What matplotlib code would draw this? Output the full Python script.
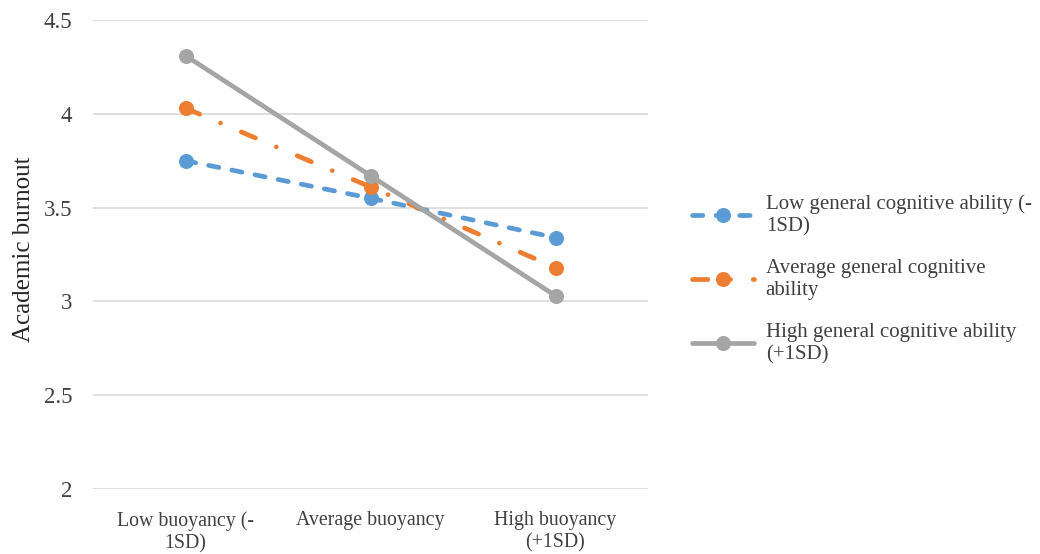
import matplotlib.pyplot as plt

plt.rcParams["font.family"] = ["Liberation Serif", "DejaVu Serif"]

categories = ["Low buoyancy (-\n1SD)", "Average buoyancy", "High buoyancy\n(+1SD)"]
low_gca = [3.75, 3.55, 3.34]
avg_gca = [4.03, 3.61, 3.18]
high_gca = [4.31, 3.67, 3.03]
series_labels = ["Low general cognitive ability (-\n1SD)",
                 "Average general cognitive\nability",
                 "High general cognitive ability\n(+1SD)"]

fig = plt.figure(figsize=(10.4, 5.54), dpi=100)
ax = fig.add_axes([93 / 1040, 1 - 489 / 554, (648 - 93) / 1040, (489 - 20) / 554])

x = [0.5, 1.5, 2.5]
lw = 3.4
ms = 9.8
ax.plot(x, low_gca, color="#5b9bd5", lw=lw, ls=(0, (2.2, 2.8)), marker="o",
        ms=ms, dash_capstyle="round", label=series_labels[0])
ax.plot(x, avg_gca, color="#ed7d31", lw=lw, ls=(0, (3.25, 4.8, 0.01, 4.8)), marker="o",
        ms=ms, dash_capstyle="round", label=series_labels[1])
ax.plot(x, high_gca, color="#a5a5a5", lw=lw, ls="-", marker="o",
        ms=ms, solid_capstyle="round", label=series_labels[2])

ax.set_xlim(0, 3)
ax.set_ylim(2, 4.5)
ax.set_yticks([2, 2.5, 3, 3.5, 4, 4.5])
ax.set_yticklabels(["2", "2.5", "3", "3.5", "4", "4.5"])
ax.set_xticks(x)
ax.set_xticklabels(categories)
ax.tick_params(axis="both", length=0, colors="#404040")
ax.tick_params(axis="x", pad=16, labelsize=14.3)
ax.tick_params(axis="y", pad=15, labelsize=16.5)
ax.grid(axis="y", color="#d9d9d9", lw=1.2)
ax.set_axisbelow(True)
for s in ax.spines.values():
    s.set_visible(False)
ax.set_ylabel("Academic burnout", fontsize=18, color="#262626")
ax.yaxis.set_label_coords(-0.105, 0.512)

leg = ax.legend(loc="center left", bbox_to_anchor=(1.045, 0.447), frameon=False,
                fontsize=15, handlelength=3.0, labelspacing=1.1, handletextpad=0.55)
for t in leg.get_texts():
    t.set_color("#404040")

fig.savefig("out.png", dpi=100)
